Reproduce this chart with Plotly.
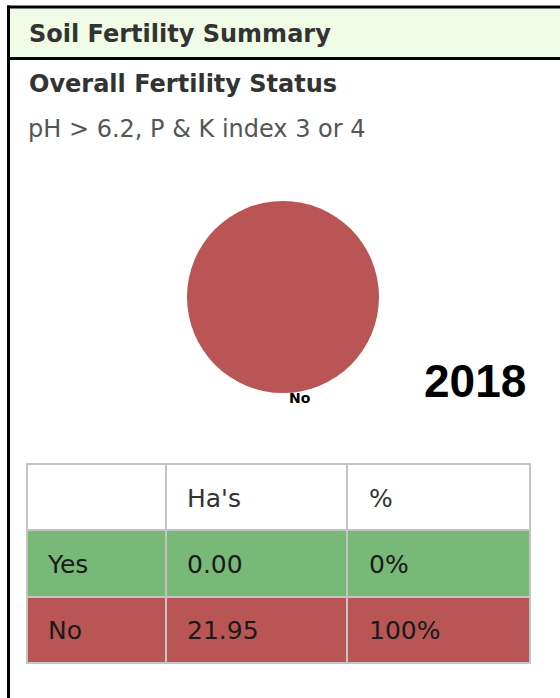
import plotly.graph_objects as go

# ---- data ----
categories = ["Yes", "No"]
hectares = [0.00, 21.95]
percent_labels = ["0%", "100%"]
table_headers = ["", "Ha's", "%"]
slice_colors = ["#78b978", "#b95555"]
panel_title = "Soil Fertility Summary"
chart_title = "Overall Fertility Status"
chart_subtitle = "pH > 6.2, P & K index 3 or 4"
year_label = "2018"

W, H = 560, 698


def px(x):
    return x / W


def py(y):
    return 1 - y / H


fig = go.Figure()

# pie
cx, cy, d = 283, 297, 192
fig.add_trace(go.Pie(
    labels=categories,
    values=hectares,
    marker=dict(colors=slice_colors, line=dict(width=0)),
    textinfo="none",
    hoverinfo="label+value+percent",
    sort=False,
    showlegend=False,
    domain=dict(x=[px(cx - d / 2), px(cx + d / 2)], y=[py(cy + d / 2), py(cy - d / 2)]),
))

# table geometry
tx0, tx1, ty0, row_h = 27, 531, 464, 66.3
col_w = [139, 182, 183]
cell_values = [
    categories,
    [f"{v:.2f}" for v in hectares],
    percent_labels,
]

# table: fills and grid lines
fig.add_trace(go.Table(
    domain=dict(x=[px(tx0), px(tx1)], y=[py(ty0 + 3 * row_h + 2), py(ty0)]),
    columnwidth=col_w,
    header=dict(
        values=["" for _ in table_headers],
        fill_color="white",
        line=dict(color="#c4c4c4", width=2),
        height=row_h,
    ),
    cells=dict(
        values=[["" for _ in col] for col in cell_values],
        fill_color=[slice_colors] * 3,
        line=dict(color="#c4c4c4", width=2),
        height=row_h,
    ),
))

# table: text layer (offset so the text sits in the middle of each row)
dx, dy = 13, 16
fig.add_trace(go.Table(
    domain=dict(x=[px(tx0 + dx), px(tx1 + dx)], y=[py(ty0 + dy + 3 * row_h + 2), py(ty0 + dy)]),
    columnwidth=col_w,
    header=dict(
        values=table_headers,
        fill_color="rgba(0,0,0,0)",
        line=dict(color="rgba(0,0,0,0)", width=0),
        align="left",
        height=row_h,
        font=dict(family="DejaVu Sans", size=25, color="#333333"),
    ),
    cells=dict(
        values=cell_values,
        fill_color="rgba(0,0,0,0)",
        line=dict(color="rgba(0,0,0,0)", width=0),
        align="left",
        height=row_h,
        font=dict(family="DejaVu Sans", size=25, color="#1a1a1a"),
    ),
))

shapes = [
    # header band
    dict(type="rect", xref="paper", yref="paper", x0=px(9), x1=1.0, y0=py(58), y1=py(8),
         fillcolor="#f0fce6", line=dict(width=0), layer="below"),
    # top border
    dict(type="line", xref="paper", yref="paper", x0=px(7), x1=1.0, y0=py(7), y1=py(7),
         line=dict(color="black", width=3)),
    # header bottom border
    dict(type="line", xref="paper", yref="paper", x0=px(7), x1=1.0, y0=py(58.5), y1=py(58.5),
         line=dict(color="black", width=3)),
    # left border
    dict(type="line", xref="paper", yref="paper", x0=px(8.5), x1=px(8.5), y0=0, y1=py(5.5),
         line=dict(color="black", width=3)),
]

annotations = [
    dict(text=f"<b>{panel_title}</b>", x=px(27), y=py(34), xref="paper", yref="paper",
         xanchor="left", yanchor="middle", showarrow=False,
         font=dict(family="DejaVu Sans", size=24, color="#333333")),
    dict(text=f"<b>{chart_title}</b>", x=px(27), y=py(84), xref="paper", yref="paper",
         xanchor="left", yanchor="middle", showarrow=False,
         font=dict(family="DejaVu Sans", size=24, color="#333333")),
    dict(text=chart_subtitle, x=px(26), y=py(129), xref="paper", yref="paper",
         xanchor="left", yanchor="middle", showarrow=False,
         font=dict(family="DejaVu Sans", size=24, color="#555555")),
    dict(text=f"<b>{categories[1]}</b>", x=px(300), y=py(398), xref="paper", yref="paper",
         xanchor="center", yanchor="middle", showarrow=False,
         font=dict(family="DejaVu Sans", size=14, color="black")),
    dict(text=f"<b>{year_label}</b>", x=px(475), y=py(381), xref="paper", yref="paper",
         xanchor="center", yanchor="middle", showarrow=False,
         font=dict(family="Liberation Sans", size=46, color="black")),
]

fig.update_layout(
    width=W, height=H,
    margin=dict(l=0, r=0, t=0, b=0),
    paper_bgcolor="white",
    plot_bgcolor="white",
    shapes=shapes,
    annotations=annotations,
)

fig.write_html("out.html", post_script="document.body.style.margin='0';",
               config={"displayModeBar": False})
